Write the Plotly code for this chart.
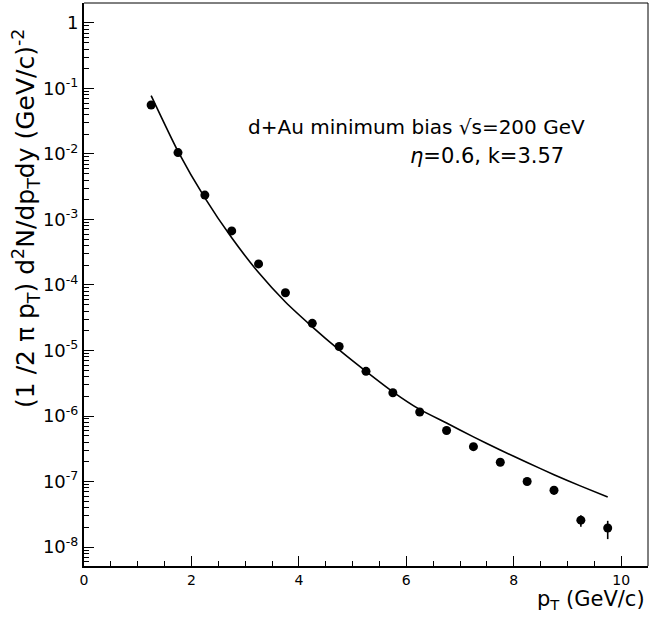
import plotly.graph_objects as go

# Measured invariant yield, d+Au minimum bias, sqrt(s)=200 GeV
pt = [1.25, 1.75, 2.25, 2.75, 3.25, 3.75, 4.25, 4.75, 5.25,
      5.75, 6.25, 6.75, 7.25, 7.75, 8.25, 8.75, 9.25, 9.75]
yield_data = [5.6e-2, 1.05e-2, 2.36e-3, 6.7e-4, 2.1e-4, 7.6e-5, 2.6e-5, 1.15e-5, 4.8e-6,
              2.26e-6, 1.15e-6, 6.0e-7, 3.4e-7, 1.97e-7, 1.0e-7, 7.35e-8, 2.57e-8, 1.95e-8]
err_up = [0, 0, 0, 0, 0, 0, 0, 0, 0,
          0, 0, 0, 0, 0, 0, 1.2e-8, 0.48e-8, 0.56e-8]
err_down = [0, 0, 0, 0, 0, 0, 0, 0, 0,
            0, 0, 0, 0, 0, 0, 1.1e-8, 0.53e-8, 0.63e-8]

# pQCD calculation (eta=0.6, k=3.57)
pt_calc = [1.25, 1.75, 2.25, 2.75, 3.25, 3.75, 4.25, 4.75, 5.25,
           5.75, 6.25, 6.75, 7.25, 7.75, 8.25, 8.75, 9.25, 9.75]
yield_calc = [7.8e-2, 1.1e-2, 2.14e-3, 5.25e-4, 1.55e-4, 5.5e-5, 2.3e-5, 1.02e-5, 4.8e-6,
              2.34e-6, 1.26e-6, 7.8e-7, 4.8e-7, 3.02e-7, 1.95e-7, 1.27e-7, 8.5e-8, 5.8e-8]

y_tickvals = [1e-8, 1e-7, 1e-6, 1e-5, 1e-4, 1e-3, 1e-2, 1e-1, 1]
y_ticktext = ["10<sup>-8</sup>", "10<sup>-7</sup>", "10<sup>-6</sup>", "10<sup>-5</sup>",
              "10<sup>-4</sup>", "10<sup>-3</sup>", "10<sup>-2</sup>", "10<sup>-1</sup>", "1"]
x_tickvals = [0, 2, 4, 6, 8, 10]

FONT = "DejaVu Sans"
X_RANGE = [0, 10.5]
Y_RANGE = [-8.29, 0.305]

y_minor = []
for e in range(-9, 1):
    for m in range(2, 10):
        y_minor.append(m * 10.0 ** e)
x_minor = [i * 0.5 for i in range(0, 22) if i % 4 != 0]

fig = go.Figure()

fig.add_trace(go.Scatter(
    x=pt_calc, y=yield_calc, mode="lines",
    line=dict(color="black", width=1.6, shape="spline", smoothing=0.6),
    showlegend=False, hoverinfo="skip",
))

fig.add_trace(go.Scatter(
    x=pt, y=yield_data, mode="markers",
    marker=dict(color="black", size=9, symbol="circle"),
    error_y=dict(type="data", symmetric=False, array=err_up, arrayminus=err_down,
                 color="black", thickness=1.6, width=0),
    showlegend=False,
))

# empty trace on the overlay axes that carry the minor ticks
fig.add_trace(go.Scatter(x=[None], y=[None], xaxis="x2", yaxis="y2",
                         showlegend=False, hoverinfo="skip"))

fig.update_layout(
    width=671, height=617,
    margin=dict(l=84, r=23, t=3, b=51),
    paper_bgcolor="white", plot_bgcolor="white",
    font=dict(family=FONT, color="black", size=16),
    showlegend=False,
    xaxis=dict(
        range=X_RANGE, showgrid=False, zeroline=False,
        showline=True, linecolor="black", linewidth=2, mirror=False,
        tickmode="array", tickvals=x_tickvals, ticktext=[str(v) for v in x_tickvals],
        ticks="inside", ticklen=10, tickwidth=1.2, tickcolor="black",
        tickfont=dict(size=14, family=FONT),
    ),
    yaxis=dict(
        type="log", range=Y_RANGE, showgrid=False, zeroline=False,
        showline=True, linecolor="black", linewidth=2, mirror=False,
        tickmode="array", tickvals=y_tickvals, ticktext=y_ticktext,
        ticks="inside", ticklen=10, tickwidth=1.2, tickcolor="black",
        tickfont=dict(size=18, family=FONT),
    ),
    xaxis2=dict(
        overlaying="x", anchor="y", range=X_RANGE, showgrid=False, zeroline=False,
        showline=False, showticklabels=False, tickmode="array", tickvals=x_minor,
        ticks="inside", ticklen=5, tickwidth=1.2, tickcolor="black",
    ),
    yaxis2=dict(
        overlaying="y", anchor="x", type="log", range=Y_RANGE, showgrid=False,
        zeroline=False, showline=False, showticklabels=False, tickmode="array",
        tickvals=y_minor, ticks="inside", ticklen=5, tickwidth=1.2, tickcolor="black",
    ),
)

# thin frame on top and right
fig.add_shape(type="line", xref="paper", yref="paper", x0=0, y0=1, x1=1, y1=1,
              line=dict(color="black", width=1), layer="above")
fig.add_shape(type="line", xref="paper", yref="paper", x0=1, y0=0, x1=1, y1=1,
              line=dict(color="black", width=1), layer="above")

fig.add_annotation(
    xref="paper", yref="paper", x=-0.103, y=(566 - 218) / 563,
    text="(1 /2 \u03c0 p<sub>T</sub>) d<sup>2</sup>N/dp<sub>T</sub>dy (GeV/c)<sup>-2</sup>",
    textangle=-90, showarrow=False, xanchor="center", yanchor="middle",
    font=dict(size=25, family=FONT),
)
fig.add_annotation(
    xref="paper", yref="paper", x=(647 - 84) / 564, y=(566 - 600) / 563,
    text="p<sub>T</sub> (GeV/c)", showarrow=False, xanchor="right", yanchor="middle",
    font=dict(size=21, family=FONT),
)
fig.add_annotation(
    xref="paper", yref="paper", x=(246 - 84) / 564, y=(566 - 127) / 563,
    text="d+Au minimum bias \u221as=200 GeV", showarrow=False,
    xanchor="left", yanchor="middle", font=dict(size=20, family=FONT),
)
fig.add_annotation(
    xref="paper", yref="paper", x=(487 - 84) / 564, y=(566 - 156) / 563,
    text="<i>\u03b7</i>=0.6, k=3.57", showarrow=False,
    xanchor="center", yanchor="middle", font=dict(size=21, family=FONT),
)

fig.write_html("out.html")
